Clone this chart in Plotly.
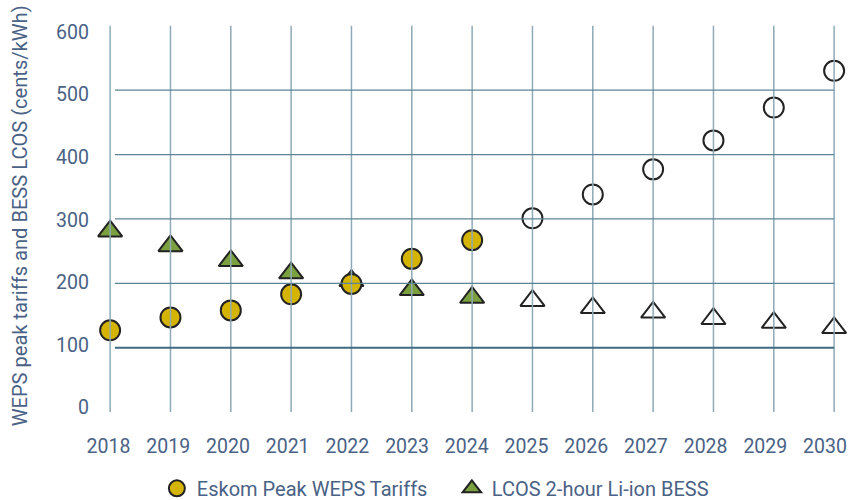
import plotly.graph_objects as go

years_hist = [2018, 2019, 2020, 2021, 2022, 2023, 2024]
years_proj = [2025, 2026, 2027, 2028, 2029, 2030]
years_all = years_hist + years_proj

eskom_hist = [127, 147, 158, 183, 199, 238, 267]
eskom_proj = [301, 338, 377, 422, 473, 530]
lcos_hist = [281, 258, 235, 216, 204, 190, 178]
lcos_proj = [173, 162, 155, 145, 139, 131]

y_ticks = [0, 100, 200, 300, 400, 500, 600]
h_grid = [100, 200, 300, 400, 500]
y_title = "WEPS peak tariffs and BESS LCOS (cents/kWh)"

TXT = "#4a6285"
YEL = "#D4B400"
GRN = "#7BA03F"
EDGE = "#222222"
FONT = "Roboto"

fig = go.Figure()

fig.add_trace(go.Scatter(x=years_hist, y=lcos_hist, mode="markers", name="LCOS 2-hour Li-ion BESS",
                         marker=dict(symbol="triangle-up", size=21, color=GRN, line=dict(color=EDGE, width=2))))
fig.add_trace(go.Scatter(x=years_proj, y=lcos_proj, mode="markers", showlegend=False,
                         marker=dict(symbol="triangle-up", size=21, color="white", line=dict(color=EDGE, width=2))))
fig.add_trace(go.Scatter(x=years_hist, y=eskom_hist, mode="markers", name="Eskom Peak WEPS Tariffs",
                         marker=dict(symbol="circle", size=20, color=YEL, line=dict(color=EDGE, width=2))))
fig.add_trace(go.Scatter(x=years_proj, y=eskom_proj, mode="markers", showlegend=False,
                         marker=dict(symbol="circle", size=20, color="white", line=dict(color=EDGE, width=2))))
# dummy trace so the label axes render
fig.add_trace(go.Scatter(x=[None], y=[None], xaxis="x2", yaxis="y2", showlegend=False,
                         hoverinfo="skip", mode="markers"))

shapes = []
for yr in years_all:
    shapes.append(dict(type="line", layer="above", xref="x", yref="y", x0=yr, x1=yr, y0=y_ticks[0], y1=y_ticks[-1],
                       line=dict(color="#8eaab6", width=1.5)))
for v in h_grid:
    base = v == h_grid[0]
    shapes.append(dict(type="line", layer="above", xref="x", yref="y", x0=years_all[0] + 0.08, x1=years_all[-1],
                       y0=v, y1=v, line=dict(color="#3f6b80" if base else "#5b8494", width=2.2 if base else 1.2)))

fig.update_layout(
    width=848, height=500,
    margin=dict(l=86, r=0, t=0, b=75, autoexpand=False),
    paper_bgcolor="white", plot_bgcolor="white",
    font=dict(family=FONT, size=19.5, color=TXT),
    shapes=shapes,
    showlegend=True,
    legend=dict(orientation="h", x=0.093, xanchor="left", y=-0.149, yanchor="middle",
                traceorder="reversed", font=dict(family=FONT, size=20, color=TXT),
                itemwidth=30, tracegroupgap=0, entrywidth=250, entrywidthmode="pixels"),
    xaxis=dict(range=[2017.6, 2030.23], showgrid=False, zeroline=False, showline=False,
               showticklabels=False, ticks=""),
    xaxis2=dict(range=[2017.623, 2030.385], overlaying="x", side="bottom", anchor="y",
                tickvals=years_all, ticktext=[str(y) for y in years_all],
                showgrid=False, zeroline=False, showline=False, ticks="", ticklabelstandoff=7,
                ticklabeloverflow="allow", tickfont=dict(family=FONT, size=19.5, color=TXT)),
    yaxis=dict(range=[-20, 640], showgrid=False, zeroline=False, showline=False, showticklabels=False),
    yaxis2=dict(range=[-27.8, 651.1], overlaying="y", side="left", anchor="x", tickvals=y_ticks,
                showgrid=False, zeroline=False, showline=False, ticks="", ticklabelstandoff=-4,
                tickfont=dict(family=FONT, size=19.5, color=TXT)),
    annotations=[dict(text=y_title, textangle=-90, xref="paper", yref="paper",
                      x=-0.0866, y=0.491, xanchor="center", yanchor="middle", showarrow=False,
                      font=dict(family=FONT, size=20.1, color=TXT))],
)

fig.write_html("out.html")
